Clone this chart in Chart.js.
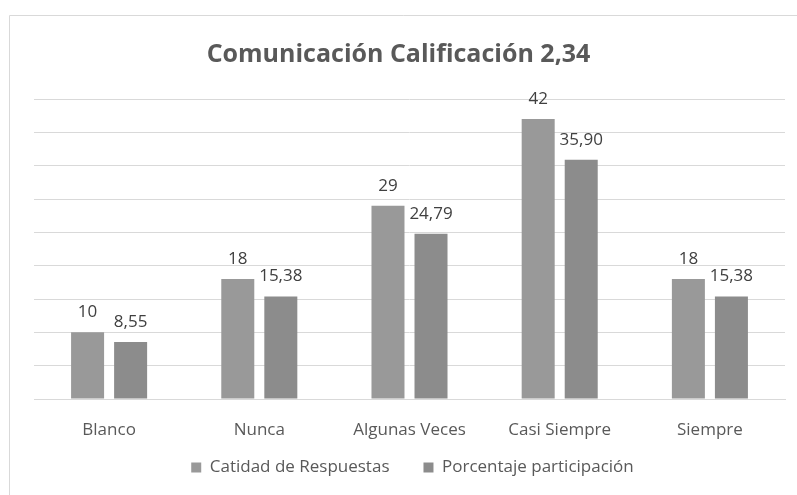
<!DOCTYPE html>
<html>
<head>
<meta charset="utf-8">
<script src="https://cdn.jsdelivr.net/npm/chart.js@4"></script>
<style>
  html, body { margin: 0; padding: 0; background: #fff; }
  #wrap { width: 797px; height: 495px; }
</style>
</head>
<body>
<div id="wrap"><canvas id="chart" width="797" height="495"></canvas></div>
<script>
"use strict";
const categories = ["Blanco", "Nunca", "Algunas Veces", "Casi Siempre", "Siempre"];
const respuestas = [10, 18, 29, 42, 18];
const porcentaje = [8.55, 15.38, 24.79, 35.90, 15.38];
const seriesNames = ["Catidad de Respuestas", "Porcentaje participación"];
const yTicks = { min: 0, max: 45, step: 5 };

const fontFamily = "'Open Sans', sans-serif";
const textColor = "#595959";

// etiquetas encima de cada barra, con coma decimal
const barLabels = {
  id: "barLabels",
  afterDatasetsDraw(chart) {
    const ctx = chart.ctx;
    ctx.save();
    ctx.font = "17px " + fontFamily;
    ctx.fillStyle = "#404040";
    ctx.textAlign = "center";
    ctx.textBaseline = "alphabetic";
    chart.data.datasets.forEach((ds, i) => {
      chart.getDatasetMeta(i).data.forEach((bar, j) => {
        const v = ds.data[j];
        const txt = ds.decimals ? v.toFixed(2).replace(".", ",") : String(v);
        ctx.fillText(txt, bar.x, bar.y - 15);
      });
    });
    ctx.restore();
  }
};

// marco gris del gráfico
const frame = {
  id: "frame",
  beforeDraw(chart) {
    const ctx = chart.ctx;
    ctx.save();
    ctx.strokeStyle = "#d9d9d9";
    ctx.lineWidth = 1;
    ctx.beginPath();
    ctx.moveTo(9.5, chart.height);
    ctx.lineTo(9.5, 15.5);
    ctx.lineTo(chart.width, 15.5);
    ctx.stroke();
    ctx.restore();
  }
};

// la leyenda usa un relleno horizontal amplio; se sube y se corre un poco a la derecha
const legendShift = {
  id: "legendShift",
  afterLayout(chart) {
    const lg = chart.legend;
    lg.top -= 16;
    lg.left += 14;
    lg.right += 14;
  }
};

new Chart(document.getElementById("chart").getContext("2d"), {
  type: "bar",
  data: {
    labels: categories,
    datasets: [
      { label: seriesNames[0], data: respuestas, backgroundColor: "#999999", decimals: false },
      { label: seriesNames[1], data: porcentaje, backgroundColor: "#8c8c8c", decimals: true }
    ]
  },
  options: {
    responsive: false,
    animation: false,
    layout: { padding: { left: 12, right: 12, top: 8, bottom: 10 } },
    datasets: { bar: { categoryPercentage: 0.573, barPercentage: 0.767 } },
    plugins: {
      title: {
        display: true,
        text: "Comunicación Calificación 2,34",
        color: textColor,
        font: { family: fontFamily, size: 25, weight: "bold" },
        padding: { top: 32, bottom: 29 }
      },
      legend: {
        position: "bottom",
        maxHeight: 44,
        labels: {
          color: textColor,
          font: { family: fontFamily, size: 17 },
          boxWidth: 10,
          boxHeight: 10,
          padding: 34
        }
      },
      tooltip: { enabled: false }
    },
    scales: {
      x: {
        afterFit(scale) { scale.height = 42; },
        grid: { display: false, drawTicks: false },
        border: { color: "#d9d9d9" },
        ticks: { color: textColor, font: { family: fontFamily, size: 17 }, padding: 21 }
      },
      y: {
        min: yTicks.min,
        max: yTicks.max,
        afterFit(scale) { scale.width = 22; },
        border: { display: false },
        grid: { color: "#d9d9d9", drawTicks: false },
        ticks: { display: false, stepSize: yTicks.step, padding: 0 }
      }
    }
  },
  plugins: [barLabels, frame, legendShift]
});
</script>
</body>
</html>
